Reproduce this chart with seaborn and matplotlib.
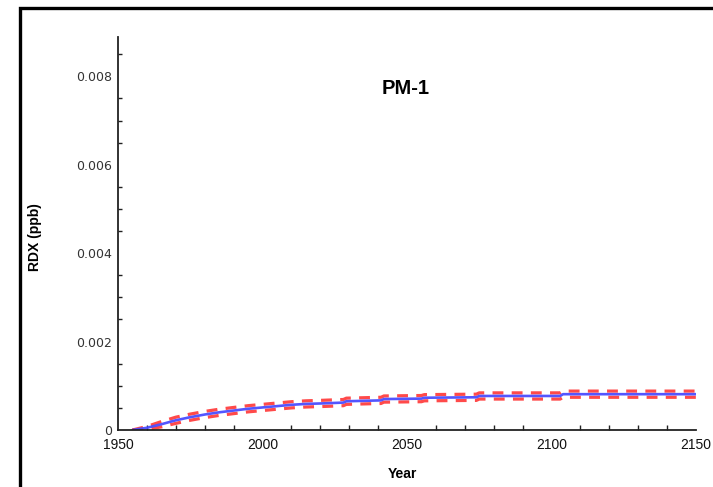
import numpy as np
import pandas as pd
import matplotlib
matplotlib.use("Agg")
import matplotlib.pyplot as plt
from matplotlib.ticker import MultipleLocator
from matplotlib.patches import Rectangle
import seaborn as sns

# Simulated RDX concentration at well PM-1
years = [1955, 1960, 1965, 1970, 1975, 1980, 1985, 1990, 1995, 2000,
         2005, 2010, 2015, 2020, 2028, 2029, 2041, 2042, 2055, 2056,
         2074, 2075, 2103, 2104, 2150]
rdx_mean = [0.0, 0.00005, 0.00013, 0.00022, 0.00029, 0.00035, 0.00040, 0.00044,
            0.00048, 0.00051, 0.00054, 0.00057, 0.00059, 0.00060, 0.00062,
            0.00065, 0.00067, 0.00070, 0.00071, 0.00073, 0.00074, 0.00077,
            0.00077, 0.00081, 0.00081]
rdx_upper = [0.0, 0.00008, 0.00019, 0.00029, 0.00036, 0.00042, 0.00047, 0.00051,
             0.00055, 0.00058, 0.00061, 0.00064, 0.00066, 0.00067, 0.00069,
             0.00072, 0.00074, 0.00077, 0.00078, 0.00080, 0.00081, 0.00084,
             0.00084, 0.00088, 0.00088]
rdx_lower = [0.0, 0.00002, 0.00007, 0.00015, 0.00022, 0.00028, 0.00033, 0.00037,
             0.00041, 0.00044, 0.00047, 0.00050, 0.00052, 0.00053, 0.00055,
             0.00058, 0.00060, 0.00063, 0.00064, 0.00066, 0.00067, 0.00070,
             0.00070, 0.00074, 0.00074]

x_ticks = [1950, 2000, 2050, 2100, 2150]
y_ticks = [0, 0.002, 0.004, 0.006, 0.008]
y_tick_labels = ["0", "0.002", "0.004", "0.006", "0.008"]

sns.set_style("white")
plt.rcParams["font.family"] = ["Liberation Sans", "DejaVu Sans"]

fig = plt.figure(figsize=(7.13, 4.87), dpi=100)
ax = fig.add_axes([118 / 713, 57 / 487, 578 / 713, 393 / 487])

bounds = pd.DataFrame({
    "Year": years * 2,
    "RDX": rdx_upper + rdx_lower,
    "bound": ["upper"] * len(years) + ["lower"] * len(years),
})
mean_df = pd.DataFrame({"Year": years, "RDX": rdx_mean})

sns.lineplot(data=bounds, x="Year", y="RDX", units="bound", estimator=None,
             color="#ff2a2a", linewidth=2.3, ax=ax,
             linestyle=(0, (3.4, 2.6)), alpha=0.85)
sns.lineplot(data=mean_df, x="Year", y="RDX", color="#4a4cff",
             linewidth=1.9, ax=ax, alpha=0.95)

ax.set_xlim(1950, 2150)
ax.set_ylim(0, 0.00889)
ax.set_xticks(x_ticks)
ax.set_xticklabels([str(v) for v in x_ticks], fontsize=10, color="#111111")
ax.set_yticks(y_ticks)
ax.set_yticklabels(y_tick_labels, fontsize=9, color="#333333",
                   family=["DejaVu Sans"])
ax.xaxis.set_minor_locator(MultipleLocator(10))
ax.yaxis.set_minor_locator(MultipleLocator(0.0005))

ax.tick_params(axis="x", which="major", direction="in", length=6, width=1.2,
               pad=6, color="#222222")
ax.tick_params(axis="x", which="minor", direction="in", length=3.5, width=1.0,
               color="#222222", bottom=True)
ax.tick_params(axis="y", which="major", direction="in", length=4, width=1.2,
               pad=4, color="#222222")
ax.tick_params(axis="y", which="minor", direction="in", length=3, width=1.0,
               color="#222222", left=True)

for side in ("top", "right"):
    ax.spines[side].set_visible(False)
for side in ("left", "bottom"):
    ax.spines[side].set_color("#222222")
    ax.spines[side].set_linewidth(1.3)

ax.set_xlabel("Year", fontsize=10, fontweight="bold", color="black")
ax.xaxis.set_label_coords(0.493, -0.095)
ax.set_ylabel("RDX (ppb)", fontsize=10, fontweight="bold", color="black")
ax.yaxis.set_label_coords(-0.131, 0.49)

ax.text(0.498, 0.870, "PM-1", transform=ax.transAxes, ha="center",
        va="center", fontsize=14.5, fontweight="bold", color="black")

# Frame around the whole figure
fig.patches.append(Rectangle((20 / 713, -0.05), 1.1, 1.05 - 8 / 487,
                             transform=fig.transFigure, fill=False,
                             edgecolor="black", linewidth=2.4))

fig.savefig("out.png", dpi=100)
